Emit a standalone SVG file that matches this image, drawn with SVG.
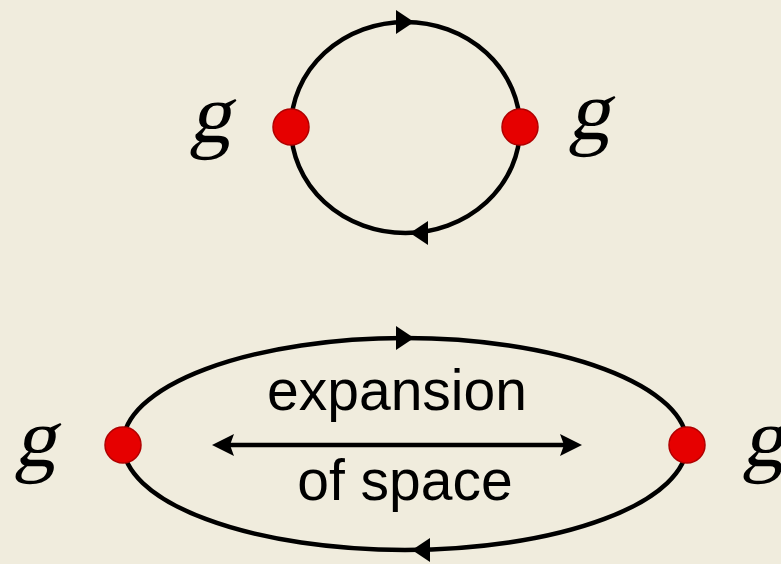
<svg xmlns="http://www.w3.org/2000/svg" width="781" height="564" viewBox="0 0 781 564">
<style>
.loop{fill:none;stroke:#000;stroke-width:4.5}
.head{fill:#000}
.dot{fill:#e60000;stroke:#b00000;stroke-width:1.5}
.g{font-family:"Liberation Serif",serif;font-size:84px;fill:#000}
.lbl{font-family:"Liberation Sans",Arial,sans-serif;font-size:57px;fill:#000;text-anchor:middle}
.axis{stroke:#000;stroke-width:4.5;fill:none}
</style>
<rect width="781" height="564" fill="#f0ecdd"/>
<g id="connectors">
<ellipse class="loop" cx="405.5" cy="127.5" rx="114.5" ry="105.5"/>
<path class="head" d="M414,22 L396,10 L396,34 z"/>
<path class="head" d="M410,233 L428,221 L428,245 z"/>
<ellipse class="loop" cx="405" cy="444" rx="282" ry="106"/>
<path class="head" d="M414,338 L396,326 L396,350 z"/>
<path class="head" d="M412,550 L430,538 L430,562 z"/>
<line class="axis" x1="228" y1="445" x2="566" y2="445"/>
<path class="head" d="M212,445 L234,434 L230,445 L234,456 z"/>
<path class="head" d="M582,445 L560,434 L564,445 L560,456 z"/>
</g>
<g id="node-top-left"><circle class="dot" cx="291" cy="127" r="18"/><text class="g" transform="translate(189,142) skewX(-12)">g</text></g>
<g id="node-top-right"><circle class="dot" cx="520" cy="127" r="18"/><text class="g" transform="translate(568,139) skewX(-12)">g</text></g>
<g id="node-bottom-left"><circle class="dot" cx="123" cy="445" r="18"/><text class="g" transform="translate(14,466) skewX(-12)">g</text></g>
<g id="node-bottom-right"><circle class="dot" cx="687" cy="445" r="18"/><text class="g" transform="translate(742,466) skewX(-12)">g</text></g>
<g id="label">
<text class="lbl" x="397" y="410">expansion</text>
<text class="lbl" x="405" y="500">of space</text>
</g>
</svg>
